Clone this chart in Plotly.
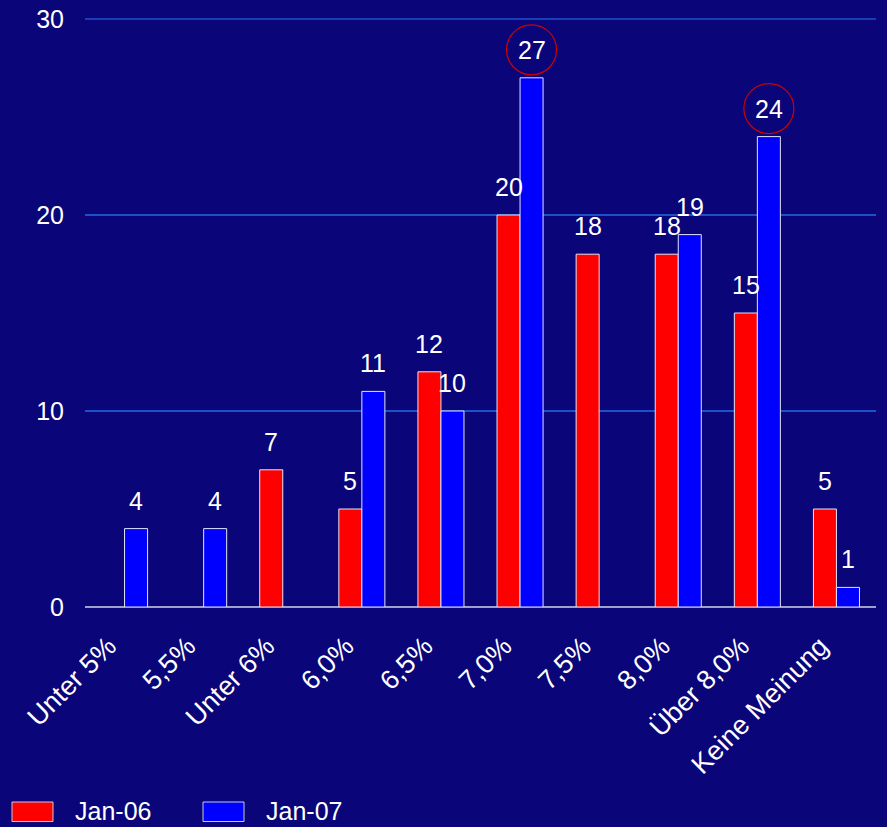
import plotly.graph_objects as go

categories = ["Unter 5%", "5,5%", "Unter 6%", "6,0%", "6,5%", "7,0%", "7,5%", "8,0%", "Über 8,0%", "Keine Meinung"]
jan06 = [None, None, 7, 5, 12, 20, 18, 18, 15, 5]
jan07 = [4, 4, None, 11, 10, 27, None, 19, 24, 1]
series_names = ["Jan-06", "Jan-07"]
highlight = [("Jan-07", "7,0%"), ("Jan-07", "Über 8,0%")]
yticks = [0, 10, 20, 30]

BG = "#0A0578"
RED = "#FF0000"
BLUE = "#0000FF"
GRID = "#1E50C8"
FONT = "Liberation Sans, Arial, sans-serif"
FS = 25
FS_X = 27

# layout geometry (pixels)
W, H = 887, 827
ML, MR, MT, MB = 85, 11, 19, 220
PW = W - ML - MR
PH = H - MT - MB
BARGAP = 0.418
barw_frac = (1 - BARGAP) / 2  # per-bar width in category units
shift_px = barw_frac * PW / len(categories) / 2
YMIN, YMAX = yticks[0], yticks[-1]

fig = go.Figure()
for name, vals, col in [(series_names[0], jan06, RED), (series_names[1], jan07, BLUE)]:
    fig.add_trace(go.Bar(
        x=categories, y=vals, name=name,
        marker=dict(color=col, line=dict(color="#E4E4F4", width=1)),
        showlegend=False,
    ))

annotations = []
for vals, sgn in [(jan06, -1), (jan07, 1)]:
    for c, v in zip(categories, vals):
        if v is None:
            continue
        annotations.append(dict(
            x=c, y=v, xref="x", yref="y", text=str(v), showarrow=False,
            xshift=sgn * shift_px, yshift=28, yanchor="middle",
            font=dict(family=FONT, size=FS, color="white"),
        ))

shapes = []
# top gridline (at range edge; drawn unclipped in paper coords)
top_paper = (yticks[-1] - YMIN) / (YMAX - YMIN)
shapes.append(dict(
    type="line", xref="paper", yref="paper", x0=0, x1=1,
    y0=top_paper, y1=top_paper,
    line=dict(color=GRID, width=1.5), layer="below",
))

for sname, cat in highlight:
    i = categories.index(cat)
    vals = jan06 if sname == "Jan-06" else jan07
    sgn = -1 if sname == "Jan-06" else 1
    v = vals[i]
    xc = i + sgn * barw_frac / 2
    shapes.append(dict(
        type="circle", xref="x", yref="y",
        xsizemode="pixel", ysizemode="pixel",
        xanchor=xc, yanchor=v,
        x0=-25, x1=25, y0=28 - 25, y1=28 + 25,
        line=dict(color="#D00000", width=1.2),
        fillcolor="rgba(0,0,0,0)", layer="above",
    ))

# custom legend
def px2paper_x(px):
    return (px - ML) / PW

def px2paper_y(py):
    return (H - MB - py) / PH

for name, col, bx in [(series_names[0], RED, 12), (series_names[1], BLUE, 203)]:
    shapes.append(dict(
        type="rect", xref="paper", yref="paper",
        x0=px2paper_x(bx), x1=px2paper_x(bx + 41),
        y0=px2paper_y(821.5), y1=px2paper_y(802),
        fillcolor=col, line=dict(color="#C8C8E0", width=1),
    ))
    annotations.append(dict(
        x=px2paper_x(bx + 61), y=px2paper_y(811), xref="paper", yref="paper",
        xanchor="left", yanchor="middle", text=name, showarrow=False,
        font=dict(family=FONT, size=FS, color="white"),
    ))

fig.update_layout(
    width=W, height=H,
    margin=dict(l=ML, r=MR, t=MT, b=MB, autoexpand=False),
    paper_bgcolor=BG, plot_bgcolor=BG,
    barmode="group", bargap=BARGAP, bargroupgap=0,
    font=dict(family=FONT, size=FS, color="white"),
    xaxis=dict(
        type="category", tickangle=-45, showgrid=False, showline=False,
        tickfont=dict(family=FONT, size=FS_X, color="white"), ticks="",
        range=[-0.5, len(categories) - 0.5],
        ticklabelstandoff=17, ticklabelshift=-16,
    ),
    yaxis=dict(
        range=[YMIN, YMAX], tickvals=yticks, showgrid=True,
        gridcolor=GRID, gridwidth=1.5,
        zeroline=True, zerolinecolor="#A0A0CC", zerolinewidth=2,
        tickfont=dict(family=FONT, size=FS, color="white"),
        ticks="", ticklabelstandoff=20,
    ),
    annotations=annotations, shapes=shapes,
)

fig.write_html("out.html")
